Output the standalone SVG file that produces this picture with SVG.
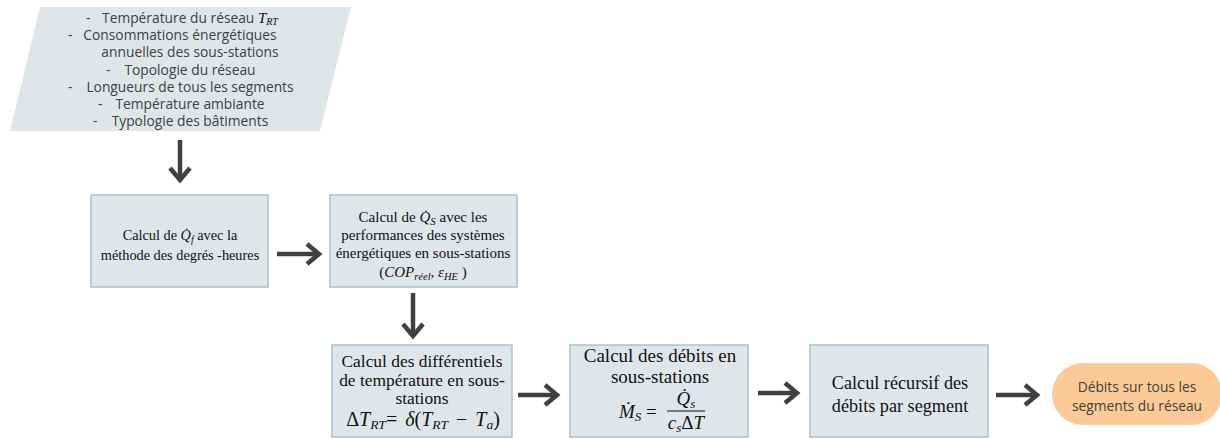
<svg xmlns="http://www.w3.org/2000/svg" width="1220" height="439" viewBox="0 0 1220 439">
<style>
.box{fill:#dfe6ea;stroke:#a8c2cf;stroke-width:1.5}
.in{fill:#dfe6ea}
.sans{font-family:"Open Sans","Noto Sans",sans-serif;font-size:13.8px;fill:#404040}
.serif{font-family:"Liberation Serif","Times New Roman",serif;fill:#111}
.m{font-style:italic}
.conn{stroke:#404040;stroke-width:4.5;fill:none}
</style>
<defs>
<marker id="chev" markerUnits="userSpaceOnUse" markerWidth="30" markerHeight="30" viewBox="-20 -15 30 30" refX="0" refY="0" orient="auto" overflow="visible">
<path d="M-12,-10 L0,0 L-12,10" fill="none" stroke="#404040" stroke-width="4.5" stroke-linejoin="miter"/>
</marker>
</defs>

<g id="inputs">
<polygon class="in" points="40,7 351,7 320,131 10,131"/>
<g class="sans">
<text x="86" y="23">-</text>
<text x="190" y="23" text-anchor="middle">Température du réseau <tspan class="serif m" font-size="15" fill="#404040">T</tspan><tspan class="serif m" font-size="10" fill="#404040" dy="2">RT</tspan></text>
<text x="68" y="40">-</text>
<text x="180" y="40" text-anchor="middle">Consommations énergétiques</text>
<text x="190" y="57" text-anchor="middle">annuelles des sous-stations</text>
<text x="106" y="75">-</text>
<text x="190" y="75" text-anchor="middle">Topologie du réseau</text>
<text x="68" y="92">-</text>
<text x="190" y="92" text-anchor="middle">Longueurs de tous les segments</text>
<text x="98" y="109">-</text>
<text x="190" y="109" text-anchor="middle">Température ambiante</text>
<text x="93" y="126">-</text>
<text x="190" y="126" text-anchor="middle">Typologie des bâtiments</text>
</g>
</g>

<g id="n1">
<rect class="box" x="91" y="195" width="177" height="92"/>
<g class="serif" font-size="14.3" text-anchor="middle">
<text x="180" y="240">Calcul de <tspan class="m">Q̇</tspan><tspan class="m" font-size="10" dy="3">f</tspan><tspan dy="-3"> avec la</tspan></text>
<text x="180" y="260">méthode des degrés -heures</text>
</g>
</g>

<g id="n2">
<rect class="box" x="330" y="195" width="187" height="92"/>
<g class="serif" font-size="15" text-anchor="middle">
<text x="423" y="222">Calcul de <tspan class="m">Q̇</tspan><tspan class="m" font-size="11" dy="3">S</tspan><tspan dy="-3"> avec les</tspan></text>
<text x="423" y="240">performances des systèmes</text>
<text x="423" y="258">énergétiques en sous-stations</text>
<text x="423" y="277">(<tspan class="m">COP</tspan><tspan class="m" font-size="10.5" dy="3">réel</tspan><tspan dy="-3">, </tspan><tspan class="m">ε</tspan><tspan class="m" font-size="10.5" dy="3">HE</tspan><tspan dy="-3"> )</tspan></text>
</g>
</g>

<g id="n3">
<rect class="box" x="332" y="345" width="180" height="92"/>
<g class="serif" font-size="17.4" text-anchor="middle">
<text x="422" y="367">Calcul des différentiels</text>
<text x="422" y="386">de température en sous-</text>
<text x="422" y="404">stations</text>
<text x="423" y="426" font-size="20" word-spacing="3">Δ<tspan class="m">T</tspan><tspan class="m" font-size="13.5" dy="3">RT</tspan><tspan dy="-3">=  </tspan><tspan class="m">δ</tspan>(<tspan class="m">T</tspan><tspan class="m" font-size="13.5" dy="3">RT</tspan><tspan dy="-3"> − </tspan><tspan class="m">T</tspan><tspan class="m" font-size="13.5" dy="3">a</tspan><tspan dy="-3">)</tspan></text>
</g>
</g>

<g id="n4">
<rect class="box" x="570" y="345" width="178" height="92"/>
<g class="serif" font-size="19" text-anchor="middle">
<text x="660" y="362">Calcul des débits en</text>
<text x="660" y="383">sous-stations</text>
<text x="619" y="418" text-anchor="start"><tspan class="m">Ṁ</tspan><tspan class="m" font-size="13" dy="3">S</tspan><tspan dy="-3"> =</tspan></text>
<text x="686" y="405"><tspan class="m">Q̇</tspan><tspan class="m" font-size="13" dy="3">s</tspan></text>
<text x="686" y="429"><tspan class="m">c</tspan><tspan class="m" font-size="13" dy="3">s</tspan><tspan dy="-3">Δ</tspan><tspan class="m">T</tspan></text>
</g>
<line x1="667" y1="411" x2="705" y2="411" stroke="#111" stroke-width="1"/>
</g>

<g id="n5">
<rect class="box" x="810" y="345" width="178" height="92"/>
<g class="serif" font-size="18.2" text-anchor="middle">
<text x="900" y="389">Calcul récursif des</text>
<text x="900" y="412">débits par segment</text>
</g>
</g>

<g id="out">
<rect x="1052" y="363" width="170" height="62" rx="31" fill="#fbca96"/>
<g class="sans" font-size="14.5" text-anchor="middle">
<text x="1137" y="392">Débits sur tous les</text>
<text x="1137" y="411">segments du réseau</text>
</g>
</g>

<g id="connectors">
<line class="conn" x1="180" y1="140" x2="180" y2="180" marker-end="url(#chev)"/>
<line class="conn" x1="277" y1="254" x2="319" y2="254" marker-end="url(#chev)"/>
<line class="conn" x1="413" y1="293" x2="413" y2="336" marker-end="url(#chev)"/>
<line class="conn" x1="518" y1="395" x2="557" y2="395" marker-end="url(#chev)"/>
<line class="conn" x1="758" y1="393" x2="797" y2="393" marker-end="url(#chev)"/>
<line class="conn" x1="996" y1="395" x2="1037" y2="395" marker-end="url(#chev)"/>
</g>
</svg>
